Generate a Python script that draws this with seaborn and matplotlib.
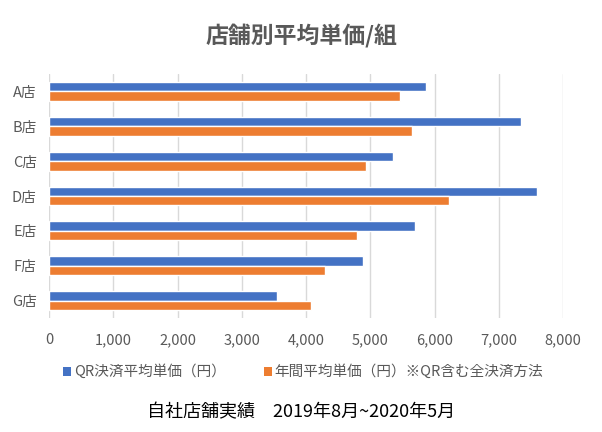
import pandas as pd
import seaborn as sns
import matplotlib.pyplot as plt
from matplotlib.patches import Patch

stores = ['A店', 'B店', 'C店', 'D店', 'E店', 'F店', 'G店']
qr_avg = [5860, 7340, 5360, 7600, 5700, 4880, 3550]
year_avg = [5470, 5650, 4940, 6230, 4800, 4300, 4080]
series_names = ['QR決済平均単価（円）', '年間平均単価（円）※QR含む全決済方法']
colors = ['#4472C4', '#ED7D31']

df = pd.DataFrame({
    'store': stores * 2,
    'value': qr_avg + year_avg,
    'series': [series_names[0]] * len(stores) + [series_names[1]] * len(stores),
})

sns.set_theme(style='white')
plt.rcParams['font.family'] = ['Noto Sans CJK JP', 'DejaVu Sans']

fig = plt.figure(figsize=(6.02, 4.32), dpi=100)
ax = fig.add_axes([49 / 602, 1 - 318 / 432, 514 / 602, 244 / 432])

sns.barplot(data=df, x='value', y='store', hue='series', hue_order=series_names,
            palette=colors, orient='h', width=0.54, saturation=1, ax=ax, legend=False)

ax.set_xlim(0, 8000)
ax.set_xticks(range(0, 8001, 1000))
ax.set_xticklabels([f'{v:,}' for v in range(0, 8001, 1000)])
ax.set_xlabel('')
ax.set_ylabel('')
ax.grid(axis='x', color='#d9d9d9', linewidth=1)
ax.set_axisbelow(True)
for s in ax.spines.values():
    s.set_visible(False)
ax.tick_params(axis='both', length=0, labelsize=10.5, colors='#595959')
ax.tick_params(axis='x', pad=11)
ax.tick_params(axis='y', pad=9)

fig.text(0.5, 1 - 36 / 432, '店舗別平均単価/組', ha='center', va='center',
         fontsize=16.5, fontweight='bold', color='#595959')

handles = [Patch(facecolor=c, edgecolor='none') for c in colors]
fig.legend(handles, series_names, loc='center', bbox_to_anchor=(303 / 602, 1 - 372 / 432),
           ncol=2, frameon=False, fontsize=10.5, labelcolor='#595959',
           handlelength=0.55, handleheight=0.55, handletextpad=0.2, columnspacing=2.6)

fig.text(301 / 602, 1 - 412 / 432, '自社店舗実績　2019年8月~2020年5月',
         ha='center', va='center', fontsize=13, color='black')

fig.savefig('out.png', dpi=100)
